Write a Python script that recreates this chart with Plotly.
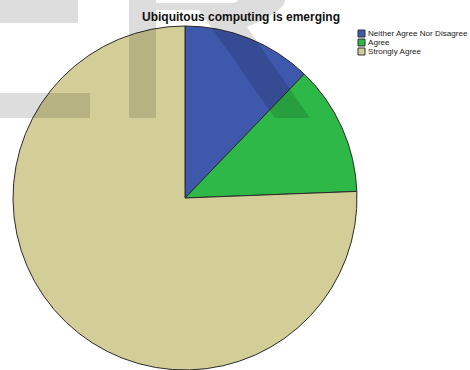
import plotly.graph_objects as go

# Survey responses for "Ubiquitous computing is emerging"
categories = ["Neither Agree Nor Disagree", "Agree", "Strongly Agree"]
counts = [5, 5, 31]
colors = ["#3e58ac", "#2eb848", "#d3ce97"]

W, H = 470, 370


def px(x):
    return x / W


def py(y):
    return 1 - y / H


fig = go.Figure()

cx, r = 185, 172
fig.add_trace(go.Pie(
    labels=categories,
    values=counts,
    sort=False,
    direction="clockwise",
    rotation=0,
    textinfo="none",
    hoverinfo="label+value+percent",
    marker=dict(colors=colors, line=dict(color="#2a2a2a", width=1)),
    domain=dict(x=[px(cx - r), px(cx + r)], y=[0, (2 * r) / H]),
    showlegend=False,
))

shapes = []

# Compact legend: swatches and labels
for i, (lab, col) in enumerate(zip(categories, colors)):
    y0 = 30 + i * 9
    shapes.append(dict(type="rect", xref="paper", yref="paper",
                       x0=px(358), x1=px(365), y0=py(y0), y1=py(y0 + 7),
                       fillcolor=col, line=dict(color="#333333", width=1)))
    fig.add_annotation(x=px(366), y=py(y0 + 3.5), xref="paper", yref="paper",
                       text=lab, showarrow=False, xanchor="left", yanchor="middle",
                       font=dict(family="Liberation Sans, Arial", size=8.1, color="#1a1a1a"))

# Translucent gray watermark lettering laid over the page
wm = "rgba(0,0,0,0.135)"
for (x0, y0, x1, y1) in [(0, 0, 78, 23), (0, 93, 90, 118), (129, 0, 156, 118)]:
    shapes.append(dict(type="rect", xref="paper", yref="paper", layer="above",
                       x0=px(x0), x1=px(x1), y0=py(y0), y1=py(y1),
                       fillcolor=wm, line=dict(width=0)))

pts = [("M", 156, 3), ("L", 156, 10), ("L", 199, 10), ("L", 275, 118), ("L", 310, 118),
       ("L", 247, 27)]
path = " ".join(f"{c} {px(x):.5f},{py(y):.5f}" for c, x, y in pts)
path += f" C {px(270):.5f},{py(18):.5f} {px(285):.5f},{py(8):.5f} {px(285):.5f},{py(0):.5f}"
path += f" L {px(238):.5f},{py(0):.5f}"
path += f" C {px(238):.5f},{py(2):.5f} {px(235):.5f},{py(3):.5f} {px(229):.5f},{py(3):.5f} Z"
shapes.append(dict(type="path", xref="paper", yref="paper", layer="above",
                   path=path, fillcolor=wm, line=dict(width=0)))

fig.update_layout(
    width=W, height=H,
    margin=dict(l=0, r=0, t=0, b=0),
    paper_bgcolor="white",
    plot_bgcolor="white",
    shapes=shapes,
    showlegend=False,
)

fig.add_annotation(x=px(240.5), y=py(17), xref="paper", yref="paper",
                   text="<b>Ubiquitous computing is emerging</b>", showarrow=False,
                   xanchor="center", yanchor="middle",
                   font=dict(family="Liberation Sans, Arial", size=12, color="#111111"))

fig.write_html("out.html")
